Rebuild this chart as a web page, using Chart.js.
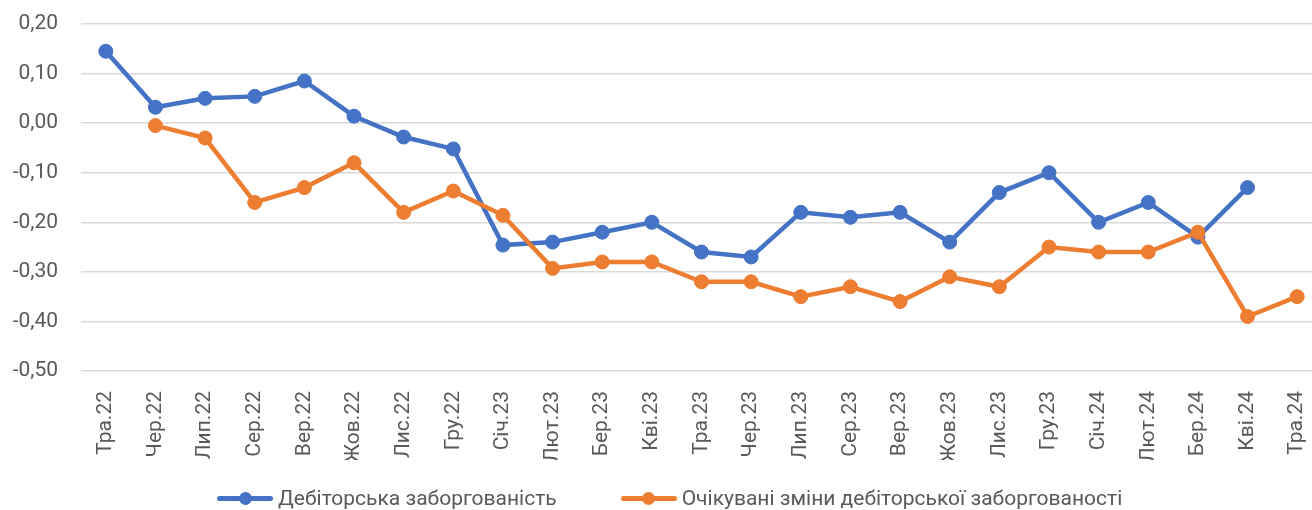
<!DOCTYPE html>
<html lang="uk">
<head>
<meta charset="utf-8">
<title>Дебіторська заборгованість</title>
<script src="https://cdn.jsdelivr.net/npm/chart.js@4.4.1/dist/chart.umd.min.js"></script>
<style>
    html, body {
        margin: 0;
        padding: 0;
        background: #ffffff;
    }
    #wrap {
        position: relative;
        width: 1312px;
        height: 510px;
        overflow: hidden;
    }
    #plot {
        width: 1330px;
        height: 510px;
    }
    #lineChart {
        display: block;
    }
    #legend {
        position: absolute;
        left: 217px;
        top: 486px;
        display: flex;
        align-items: center;
        font-family: Roboto, "Noto Sans", sans-serif;
        font-size: 21px;
        color: #595959;
        white-space: nowrap;
    }
    .item {
        display: flex;
        align-items: center;
    }
    .item + .item {
        margin-left: 64px;
    }
    .sym {
        position: relative;
        width: 56px;
        height: 14px;
        margin-right: 5px;
    }
    .sym::before {
        content: '';
        position: absolute;
        left: 0;
        right: 0;
        top: 4.5px;
        height: 5px;
        border-radius: 3px;
        background: var(--c);
    }
    .sym::after {
        content: '';
        position: absolute;
        left: 21.5px;
        top: 0.5px;
        width: 13px;
        height: 13px;
        border-radius: 50%;
        background: var(--c);
    }
</style>
</head>
<body>
<div id="wrap">
    <!-- the plot runs a little past the right edge, as in the original -->
    <div id="plot">
        <canvas id="lineChart" width="1330" height="510"></canvas>
    </div>
    <div id="legend">
        <div class="item"><span class="sym" style="--c:#4472C4"></span><span>Дебіторська заборгованість</span></div>
        <div class="item"><span class="sym" style="--c:#ED7D31"></span><span>Очікувані зміни дебіторської заборгованості</span></div>
    </div>
</div>
<script>
// Months from May 2022 to May 2024
const months = ['Тра.22', 'Чер.22', 'Лип.22', 'Сер.22', 'Вер.22', 'Жов.22', 'Лис.22', 'Гру.22',
    'Січ.23', 'Лют.23', 'Бер.23', 'Кві.23', 'Тра.23', 'Чер.23', 'Лип.23', 'Сер.23', 'Вер.23',
    'Жов.23', 'Лис.23', 'Гру.23', 'Січ.24', 'Лют.24', 'Бер.24', 'Кві.24', 'Тра.24'];

// Actual receivables balance
const receivables = [0.145, 0.032, 0.05, 0.054, 0.085, 0.014, -0.028, -0.052,
    -0.246, -0.24, -0.22, -0.20, -0.26, -0.27, -0.18, -0.19, -0.18,
    -0.24, -0.14, -0.10, -0.20, -0.16, -0.23, -0.13, null];

// Expected changes in receivables
const expected = [null, -0.005, -0.03, -0.16, -0.13, -0.08, -0.18, -0.137,
    -0.186, -0.293, -0.28, -0.28, -0.32, -0.32, -0.35, -0.33, -0.36,
    -0.31, -0.33, -0.25, -0.26, -0.26, -0.22, -0.39, -0.35];

const yTicks = { min: -0.5, max: 0.2, step: 0.1 };

const textColor = '#595959';
const gridColor = '#d9d9d9';
const fontFamily = 'Roboto, "Noto Sans", sans-serif';

function lineSet(label, data, color, order) {
    return {
        label: label,
        data: data,
        borderColor: color,
        backgroundColor: color,
        pointBackgroundColor: color,
        pointBorderColor: color,
        borderWidth: 4.5,
        pointRadius: 7,
        pointBorderWidth: 1,
        tension: 0,
        order: order
    };
}

document.addEventListener('DOMContentLoaded', function() {
    const ctx = document.getElementById('lineChart').getContext('2d');

    new Chart(ctx, {
        type: 'line',
        data: {
            labels: months,
            datasets: [
                lineSet('Дебіторська заборгованість', receivables, '#4472C4', 1),
                lineSet('Очікувані зміни дебіторської заборгованості', expected, '#ED7D31', 0)
            ]
        },
        options: {
            responsive: false,
            animation: false,
            devicePixelRatio: 1,
            layout: {
                padding: { top: 24, left: 0, right: 0, bottom: 50 }
            },
            plugins: {
                legend: { display: false },
                tooltip: { enabled: false }
            },
            scales: {
                x: {
                    offset: true,
                    grid: { display: false },
                    border: { display: false },
                    ticks: {
                        color: textColor,
                        font: { family: fontFamily, size: 21 },
                        minRotation: 90,
                        maxRotation: 90,
                        autoSkip: false,
                        padding: 12
                    },
                    afterFit: function(scale) {
                        scale.height = 89;
                        scale.paddingLeft = 0;
                        scale.paddingRight = 0;
                    }
                },
                y: {
                    min: yTicks.min,
                    max: yTicks.max,
                    grid: {
                        color: gridColor,
                        lineWidth: 1.5,
                        drawTicks: false
                    },
                    border: { display: false },
                    ticks: {
                        stepSize: yTicks.step,
                        color: textColor,
                        font: { family: fontFamily, size: 21 },
                        padding: 23,
                        callback: function(value) {
                            if (Math.abs(value) < 1e-9) value = 0;
                            return value.toFixed(2).replace('.', ',');
                        }
                    },
                    afterFit: function(scale) {
                        // tick padding would otherwise also push the plot down
                        scale.width = 81;
                        scale.paddingTop = 0;
                        scale.paddingBottom = 0;
                    }
                }
            }
        }
    });
});
</script>
</body>
</html>
